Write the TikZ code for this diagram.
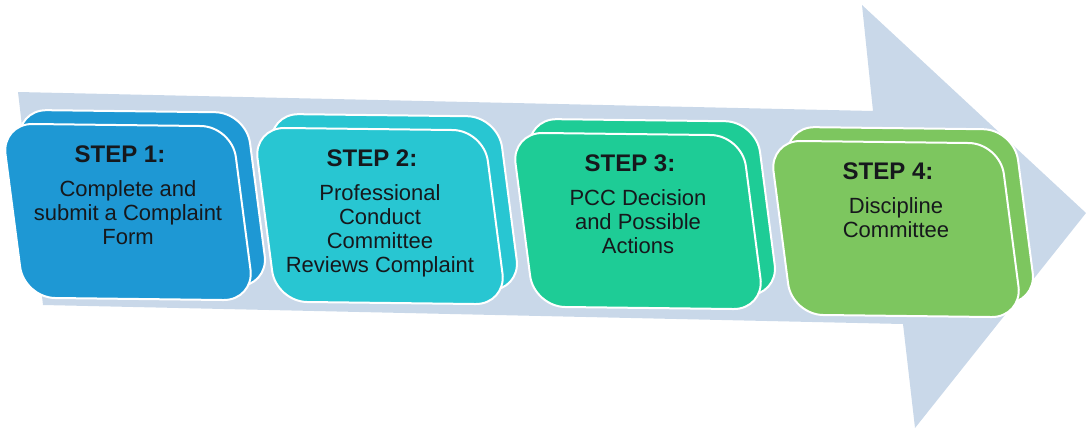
\documentclass[tikz,border=0pt]{standalone}
\usepackage{fontspec}
\setmainfont{Liberation Sans}
\definecolor{arrowblue}{RGB}{201,216,233}
\definecolor{ink}{RGB}{22,24,28}
\definecolor{stepone}{RGB}{30,152,212}
\definecolor{steptwo}{RGB}{40,198,210}
\definecolor{stepthree}{RGB}{30,204,150}
\definecolor{stepfour}{RGB}{125,198,95}
% one step: a back card, a front card and its texts
\newcommand\drawstep[6]{%
  \begin{scope}[shift={(#2,#3)}, xslant=-0.13, yslant=-0.012]
    \node[card, fill=#4] (#1back) at (16,-14) {};
    \node[card, fill=#4] (#1) at (0,0) {};
  \end{scope}
  \node[steptitle] (#1title) at (#2-8,#3-49.5) {STEP #5:};
  \node[stepbody] (#1text) at (#2,#3-31.5) {#6};
}
\begin{document}
\begin{tikzpicture}[x=1pt,y=-1pt,
  card/.style={draw=white, line width=2pt, rounded corners=31pt,
    minimum width=230pt, minimum height=174pt, inner sep=0pt, transform shape},
  steptitle/.style={anchor=base, inner sep=0pt, text=ink,
    font=\fontsize{24}{26}\selectfont\bfseries},
  stepbody/.style={anchor=north, inner sep=0pt, align=center, text=ink,
    font=\fontsize{22}{23.8}\selectfont}]
\useasboundingbox (0,0) rectangle (1086,432);
% big background arrow
\fill[arrowblue] (18,92) -- (873,111) -- (862,5) -- (1086,213)
  -- (915,428) -- (903,324) -- (43,305) -- cycle;
\drawstep{s1}{128}{212}{stepone}{1}{Complete and\\submit a Complaint\\Form}
\drawstep{s2}{380}{216}{steptwo}{2}{Professional\\Conduct\\Committee\\Reviews Complaint}
\drawstep{s3}{638}{221}{stepthree}{3}{PCC Decision\\and Possible\\Actions}
\drawstep{s4}{896}{229}{stepfour}{4}{Discipline\\Committee}
\end{tikzpicture}
\end{document}
